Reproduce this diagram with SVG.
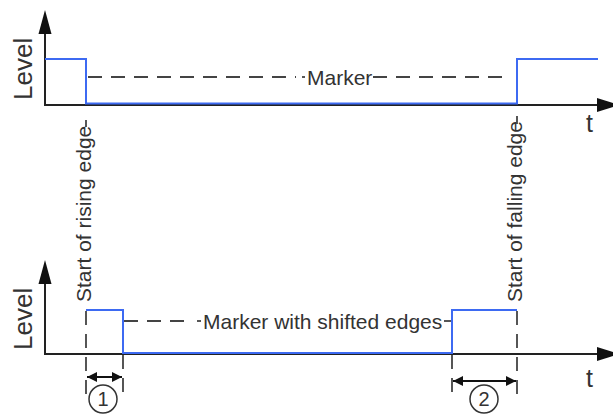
<svg xmlns="http://www.w3.org/2000/svg" width="613" height="418" viewBox="0 0 613 418">
<style>
.ax{stroke:#222;stroke-width:2;fill:none}
.ah{fill:#111}
.sig{stroke:#3d6af2;stroke-width:2;fill:none}
.dash{stroke:#444;stroke-width:1.8;fill:none;stroke-dasharray:14 9}
.tick{stroke:#444;stroke-width:1.8;fill:none}
.lbl{font-family:"Liberation Sans",Arial,sans-serif;font-size:21px;fill:#333}
.big{font-family:"Liberation Sans",Arial,sans-serif;font-size:26px;fill:#333}
.num{font-family:"Liberation Sans",Arial,sans-serif;font-size:20px;fill:#333;text-anchor:middle}
.circ{stroke:#333;stroke-width:1.5;fill:none}
</style>
<defs>
<marker id="dimArrow" viewBox="0 0 10 10" refX="10" refY="5" markerWidth="10" markerHeight="10" markerUnits="userSpaceOnUse" orient="auto-start-reverse">
<path d="M0,0 L10,5 L0,10 Z" fill="#111"/>
</marker>
</defs>

<g id="top-axes">
<line class="ax" x1="45" y1="105" x2="45" y2="30"/>
<polygon class="ah" points="45,10 38.5,34 51.5,34"/>
<line class="ax" x1="44" y1="105" x2="600" y2="105"/>
<polygon class="ah" points="619,105 597,98 597,112"/>
<text class="big" transform="translate(32,100) rotate(-90)">Level</text>
<text class="big" x="586" y="132" style="font-size:25px">t</text>
</g>

<g id="top-signal">
<path class="sig" d="M45,59 H86 V103.5 H517 V59 H598"/>
</g>

<g id="marker-label">
<line class="dash" x1="88" y1="77" x2="296" y2="77"/>
<line class="tick" x1="302" y1="77" x2="305" y2="77"/>
<text class="lbl" x="307" y="84.5">Marker</text>
<line class="dash" x1="373" y1="77" x2="510" y2="77"/>
</g>

<g id="bottom-axes">
<line class="ax" x1="45" y1="354" x2="45" y2="280"/>
<polygon class="ah" points="45,260 38.5,284 51.5,284"/>
<line class="ax" x1="44" y1="354" x2="600" y2="354"/>
<polygon class="ah" points="619,354 597,347 597,361"/>
<text class="big" transform="translate(32,350) rotate(-90)">Level</text>
<text class="big" x="586" y="387" style="font-size:25px">t</text>
</g>

<g id="bottom-signal">
<path class="sig" d="M86,310 H123 V353 H452 V310 H517"/>
</g>

<g id="shifted-marker-label">
<line class="dash" x1="124" y1="321" x2="190" y2="321"/>
<line class="tick" x1="197" y1="321" x2="201" y2="321"/>
<text class="lbl" x="203" y="328.5">Marker with shifted edges</text>
<line class="tick" x1="444" y1="321" x2="451" y2="321"/>
</g>

<g id="rising-edge-label">
<line class="tick" x1="86" y1="120" x2="86" y2="127"/>
<text class="lbl" transform="translate(90.5,302) rotate(-90)">Start of rising edge</text>
</g>

<g id="falling-edge-label">
<line class="tick" x1="517" y1="116" x2="517" y2="124"/>
<text class="lbl" transform="translate(521.5,302) rotate(-90)">Start of falling edge</text>
</g>

<g id="connectors">
<line class="dash" x1="86" y1="311" x2="86" y2="396"/>
<line class="dash" x1="123" y1="355" x2="123" y2="396"/>
<line class="dash" x1="452" y1="355" x2="452" y2="396"/>
<line class="dash" x1="517" y1="311" x2="517" y2="396"/>
<line stroke="#111" stroke-width="1.8" x1="87" y1="377" x2="122" y2="377" marker-start="url(#dimArrow)" marker-end="url(#dimArrow)"/>
<line stroke="#111" stroke-width="1.8" x1="453" y1="381" x2="516" y2="381" marker-start="url(#dimArrow)" marker-end="url(#dimArrow)"/>
</g>

<g id="callout-1">
<circle class="circ" cx="103" cy="399" r="14"/>
<text class="num" x="103" y="406">1</text>
</g>
<g id="callout-2">
<circle class="circ" cx="484" cy="399" r="14"/>
<text class="num" x="484" y="406">2</text>
</g>
</svg>
